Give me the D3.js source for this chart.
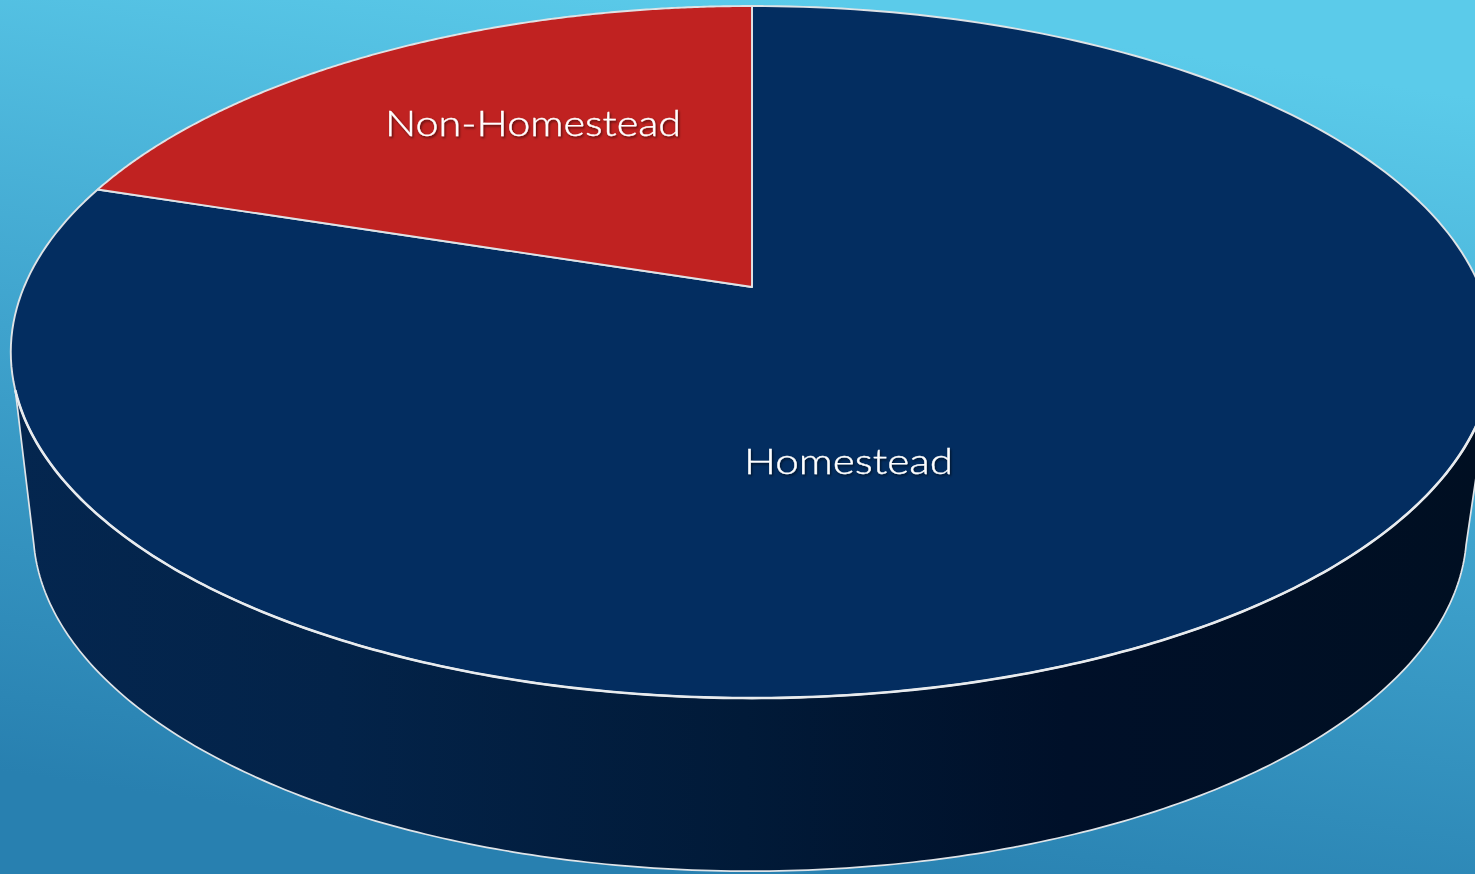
<!DOCTYPE html>
<html>
<head>
<meta charset="utf-8">
<script src="https://cdn.jsdelivr.net/npm/d3@7"></script>
<style>
html,body{margin:0;padding:0;overflow:hidden;background:#3a9cc8}
svg{display:block}
text{font-family:Lato,"Open Sans",sans-serif;font-weight:300;fill:#fff;stroke:#fff;stroke-width:0.35px}
</style>
</head>
<body>
<script>
const categories = ["Homestead", "Non-Homestead"];
const shares = [80, 20];
const sliceColors = ["#032d60", "#c02221"];

const W = 1475, H = 874;
const svg = d3.select("body").append("svg").attr("width", W).attr("height", H).attr("viewBox", [0,0,W,H]);
const defs = svg.append("defs");

const bg = defs.append("linearGradient").attr("id","bg").attr("gradientUnits","userSpaceOnUse")
  .attr("x1",820).attr("y1",0).attr("x2",690).attr("y2",874);
[[0,"#5bcbea"],[0.5,"#3fa3cd"],[1,"#2880b0"]].forEach(([o,c])=>bg.append("stop").attr("offset",o).attr("stop-color",c));

const wall = defs.append("linearGradient").attr("id","wall").attr("gradientUnits","userSpaceOnUse")
  .attr("x1",15).attr("y1",0).attr("x2",1475).attr("y2",0);
[[0,"#04264f"],[0.22,"#032349"],[0.5,"#011a38"],[0.72,"#001029"],[1,"#000f22"]].forEach(([o,c])=>wall.append("stop").attr("offset",o).attr("stop-color",c));

const shadow = defs.append("filter").attr("id","ts").attr("x","-5%").attr("y","-20%").attr("width","110%").attr("height","150%");
shadow.append("feDropShadow").attr("dx",1.2).attr("dy",1.6).attr("stdDeviation",1).attr("flood-color","#000").attr("flood-opacity",0.6);

svg.append("rect").attr("width",W).attr("height",H).attr("fill","url(#bg)");

// Perspective model of the pie disc; angle in radians, clockwise from 12 o'clock
const k = 0.188;
function projector(x0, y0, A, B) {
  const p = a => {
    const u = Math.sin(a), v = Math.cos(a), d = 1 + k * v;
    return [x0 + B * u / d, y0 - A * v / d];
  };
  p.center = [x0, y0];
  return p;
}
const topP = projector(752, 287, 333.8, 728);
const botP = projector(750, 466, 329, 704);
const line = d3.line();
const toRad = d => d * Math.PI / 180;
const sample = (a0, a1, P) => d3.range(0, 241).map(i => P(a0 + (a1 - a0) * i / 240));

const arcs = d3.pie().value(d => d.value).sort(null).startAngle(0).endAngle(2*Math.PI)(
  categories.map((name,i) => ({name, value: shares[i], color: sliceColors[i]})));

// Outer wall (front of the disc)
const topFront = sample(toRad(107), toRad(253), topP);
const botFront = sample(toRad(103.3), toRad(256.7), botP);
svg.append("path").attr("d", line(topFront.concat(botFront.slice().reverse())) + "Z")
  .attr("fill","url(#wall)").attr("stroke","none");
svg.append("path").attr("d", line([topFront[topFront.length-1]].concat(botFront.slice().reverse(),[topFront[0]])))
  .attr("fill","none").attr("stroke","#dfe4e8").attr("stroke-width",1.7);

// Top slices
svg.selectAll("path.slice").data(arcs).join("path").attr("class","slice")
  .attr("d", d => line([topP.center].concat(sample(d.startAngle, d.endAngle, topP))) + "Z")
  .attr("fill", d => d.data.color)
  .attr("stroke","#dfe3e6").attr("stroke-width",1.9).attr("stroke-linejoin","round");

// Brighter front rim
svg.append("path").attr("d", line(topFront)).attr("fill","none").attr("stroke","#e8ebee").attr("stroke-width",2.6);

// Labels
const labels = [[744,474,209],[385,136,296]];
svg.selectAll("text.lab").data(arcs).join("text").attr("class","lab")
  .attr("x",(d,i)=>labels[i][0]).attr("y",(d,i)=>labels[i][1])
  .attr("font-size",36).attr("textLength",(d,i)=>labels[i][2]).attr("lengthAdjust","spacingAndGlyphs")
  .attr("filter","url(#ts)").text(d=>d.data.name);
</script>
</body>
</html>
